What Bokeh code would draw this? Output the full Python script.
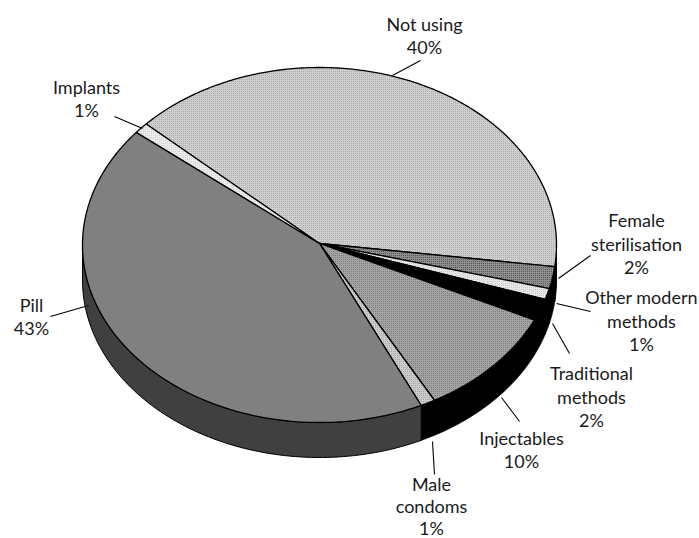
import numpy as np
from bokeh.plotting import figure
from bokeh.embed import file_html
from bokeh.resources import INLINE
from bokeh.core.properties import value

categories = ["Not using", "Female sterilisation", "Other modern methods", "Traditional methods",
              "Injectables", "Male condoms", "Pill", "Implants"]
shares = [40, 2, 1, 2, 10, 1, 43, 1]
fills = ["#cecece", "#909090", "#e8e8e8", "#000000", "#a4a4a4", "#cccccc", "#808080", "#ececec"]
hatch = [("dot", "#a4a4a4", 2), ("dot", "#404040", 2), ("dot", "#c0c0c0", 2), None,
         ("dot", "#707070", 2), ("dot", "#999999", 2), None, ("dot", "#cccccc", 2)]
sides = ["#000000", "#000000", "#000000", "#000000", "#000000", "#000000", "#404040", "#000000"]
label_lines = [["Not using", "40%"], ["Female", "sterilisation", "2%"], ["Other modern", "methods", "1%"],
               ["Traditional", "methods", "2%"], ["Injectables", "10%"], ["Male", "condoms", "1%"],
               ["Pill", "43%"], ["Implants", "1%"]]
label_pos = [(424, 35), (636, 243), (641, 320), (591, 396), (521, 449), (431, 505), (31, 316), (86, 98)]
line_gaps = [23.5, 23.5, 23.5, 23.5, 23.5, 22, 23.5, 23.5]
leaders = [((392, 75), (420, 60)), ((558, 278), (590, 255)), ((556, 303), (590, 311)), ((552, 323), (569, 353)),
           ((501, 397), (519, 421)), ((432, 441), (434, 474)), ((88, 305), (50, 316)), ((142, 128), (114, 116))]

cx, cy, rx, ry, depth = 319, 244.5, 237, 177.5, 35
start = 137

p = figure(width=699, height=538, x_range=(0, 699), y_range=(538, 0), output_backend="svg",
           toolbar_location=None, min_border=0, outline_line_color=None)
p.axis.visible = False
p.grid.visible = False

# wall of the disc
theta = start
spans = []
for s in shares:
    spans.append((theta, theta - s * 3.6))
    theta -= s * 3.6
for (a, b), col in zip(spans, sides):
    lo, hi = min(a, b), max(a, b)
    t = np.radians(np.linspace(lo, hi, 120))
    t = t[np.sin(t) <= 0.001]
    if len(t) < 2:
        continue
    x = cx + rx * np.cos(t)
    y = cy - ry * np.sin(t)
    p.patch(np.r_[x, x[::-1]], np.r_[y, y[::-1] + depth], fill_color=col, line_color="#000000", line_width=1)

# top face
for (a, b), f, h in zip(spans, fills, hatch):
    t = np.radians(np.linspace(a, b, 200))
    x = np.r_[cx, cx + rx * np.cos(t)]
    y = np.r_[cy - 1.5, cy - ry * np.sin(t)]
    kw = {}
    if h:
        kw = dict(hatch_pattern=h[0], hatch_color=h[1], hatch_scale=h[2], hatch_weight=1)
    p.patch(x, y, fill_color=f, line_color="#000000", line_width=1.3, **kw)

for (x0, y0), (x1, y1) in leaders:
    p.line([x0, x1], [y0, y1], line_color="#000000", line_width=1.1)

for lines, (lx, ly), gap in zip(label_lines, label_pos, line_gaps):
    n = len(lines)
    for i, line in enumerate(lines):
        p.text([lx], [ly + (i - (n - 1) / 2) * gap], text=[line],
               text_font=value("Lato"), text_font_size="18px", text_align="center",
               text_baseline="middle", text_color="#1a1a1a")

open("out.html", "w").write(file_html(p, INLINE))
